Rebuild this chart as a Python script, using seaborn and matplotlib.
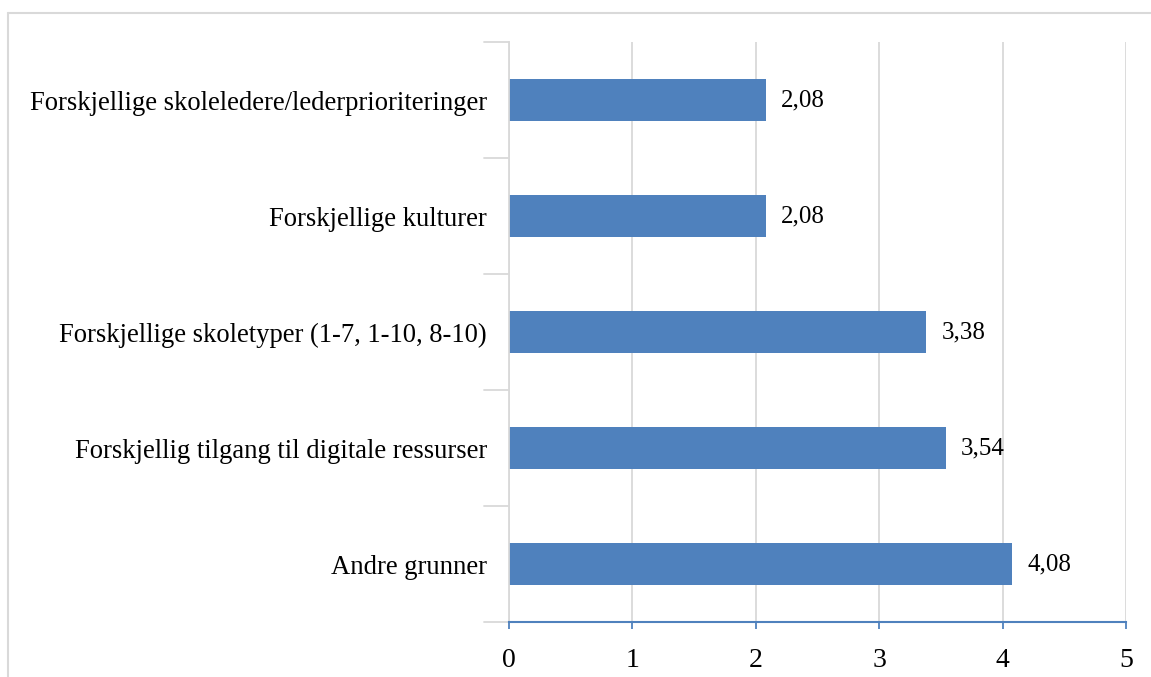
import matplotlib
matplotlib.use("Agg")
import matplotlib.pyplot as plt
import seaborn as sns
import pandas as pd
from matplotlib.lines import Line2D

categories = [
    "Forskjellige skoleledere/lederprioriteringer",
    "Forskjellige kulturer",
    "Forskjellige skoletyper (1-7, 1-10, 8-10)",
    "Forskjellig tilgang til digitale ressurser",
    "Andre grunner",
]
values = [2.08, 2.08, 3.38, 3.54, 4.08]
value_labels = ["2,08", "2,08", "3,38", "3,54", "4,08"]
xticks = [0, 1, 2, 3, 4, 5]

sns.set_theme(style="white")
plt.rcParams["font.family"] = ["Liberation Serif", "DejaVu Serif"]

df = pd.DataFrame({"cat": categories, "val": values})

W, H = 1151, 677
fig = plt.figure(figsize=(W / 100, H / 100), dpi=100)
ax = fig.add_axes([509 / W, 55 / H, 617 / W, 580 / H])

bar_color = "#4F81BD"
sns.barplot(data=df, y="cat", x="val", orient="h", color=bar_color,
            width=0.36, saturation=1, ax=ax, order=categories, linewidth=0)

ax.set_xlim(0, 5)
ax.set_ylim(4.5, -0.5)
ax.set_xticks(xticks)
ax.set_xticklabels([str(t) for t in xticks], fontsize=20, color="black")
ax.set_xlabel("")
ax.set_ylabel("")
ax.tick_params(axis="y", labelsize=19.2, colors="black", length=0, pad=16)
for lab in ax.get_yticklabels():
    lab.set_color("black")

ax.xaxis.grid(True, color="#D9D9D9", linewidth=1.3)
ax.set_axisbelow(True)

for s in ["top", "right"]:
    ax.spines[s].set_visible(False)
ax.spines["left"].set_color("#D9D9D9")
ax.spines["left"].set_linewidth(1.3)
ax.spines["bottom"].set_color(bar_color)
ax.spines["bottom"].set_linewidth(1.5)
ax.spines["bottom"].set_zorder(5)
ax.tick_params(axis="x", bottom=True, length=5, width=1.3, color=bar_color,
               direction="out", pad=14, labelcolor="black")

# category separator ticks on left spine
for b in [-0.5, 0.5, 1.5, 2.5, 3.5, 4.5]:
    ax.plot([-0.04, 0], [b, b], transform=ax.get_yaxis_transform(),
            color="#D9D9D9", lw=1.3, clip_on=False)

for i, (v, lab) in enumerate(zip(values, value_labels)):
    ax.annotate(lab, xy=(v, i), xytext=(11, 0), textcoords="offset points",
                va="center", ha="left", fontsize=18, color="black")

# outer frame (top and left)
fig.add_artist(Line2D([8 / W, 1.0], [1 - 13 / H, 1 - 13 / H],
                      transform=fig.transFigure, color="#D9D9D9", lw=1.5))
fig.add_artist(Line2D([8 / W, 8 / W], [0, 1 - 13 / H],
                      transform=fig.transFigure, color="#D9D9D9", lw=1.5))

fig.savefig("out.png", dpi=100)
